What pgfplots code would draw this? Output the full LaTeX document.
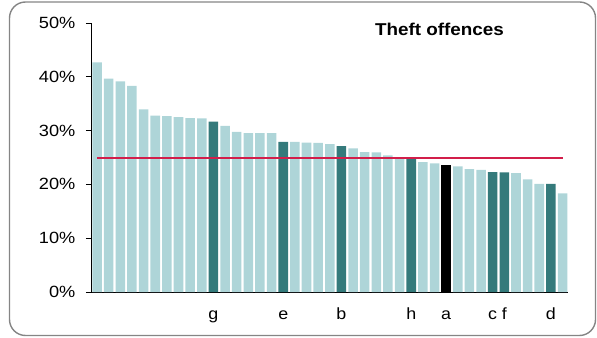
\documentclass[border=0pt]{standalone}
\usepackage{fontspec}
\setmainfont{Liberation Sans}
\usepackage{pgfplots}
\pgfplotsset{compat=1.18}
\definecolor{lightbar}{HTML}{AED5D8}
\definecolor{darkbar}{HTML}{347A7B}
\definecolor{avgred}{HTML}{D21E4A}
\definecolor{framegray}{HTML}{858585}
\begin{document}
\begin{tikzpicture}
\path (-91bp,-46bp) rectangle (506bp,292bp);
\draw[framegray, line width=1.4bp, rounded corners=16bp] (-81.5bp,-43.5bp) rectangle (504.5bp,290bp);
\begin{axis}[
  scale only axis,
  width=477bp, height=269bp,
  xmin=-0.52, xmax=40.47,
  ymin=0, ymax=50,
  axis x line=bottom, axis y line=left,
  axis line style={-, black, line width=0.8bp},
  ytick={0,10,20,30,40,50},
  yticklabels={0\%,10\%,20\%,30\%,40\%,50\%},
  xtick={10,16,21,27,30,34,35,39},
  xticklabels={g,e,b,h,a,c,f,d},
  tick align=outside,
  major tick length=5bp,
  x tick style={draw=none},
  y tick style={black, line width=0.8bp},
  yticklabel style={font=\fontsize{16.3}{18}\selectfont, xscale=1.12, xshift=-6bp},
  xticklabel style={font=\fontsize{16.3}{18}\selectfont, xscale=1.1, text height=12bp, text depth=3.5bp, yshift=-7bp},
  clip=false,
]
\addplot[ybar, bar width=0.82, bar shift=0, fill=lightbar, draw=none] coordinates {
(0,42.7)(1,39.65)(2,39.15)(3,38.3)(4,33.95)(5,32.8)(6,32.7)(7,32.5)(8,32.3)(9,32.25)
(11,30.9)(12,29.75)(13,29.55)(14,29.55)(15,29.55)
(17,27.9)(18,27.75)(19,27.7)(20,27.5)
(22,26.7)(23,26.0)(24,25.95)(25,25.4)(26,24.85)
(28,24.15)(29,23.9)
(31,23.35)(32,22.85)(33,22.7)
(36,22.1)(37,20.95)(38,20.1)
(40,18.35)};
\addplot[ybar, bar width=0.82, bar shift=0, fill=darkbar, draw=none] coordinates {
(10,31.65)(16,27.9)(21,27.1)(27,24.85)(34,22.3)(35,22.25)(39,20.1)};
\addplot[ybar, bar width=0.82, bar shift=0, fill=black, draw=none] coordinates {
(30,23.6)};
\addplot[avgred, line width=2bp, mark=none] coordinates {(0,25)(40,25)};
\node[anchor=base, font=\fontsize{17.2}{19}\selectfont\bfseries, xscale=1.1] at (axis cs:29.42,47.7) {Theft offences};
\end{axis}
\end{tikzpicture}
\end{document}
